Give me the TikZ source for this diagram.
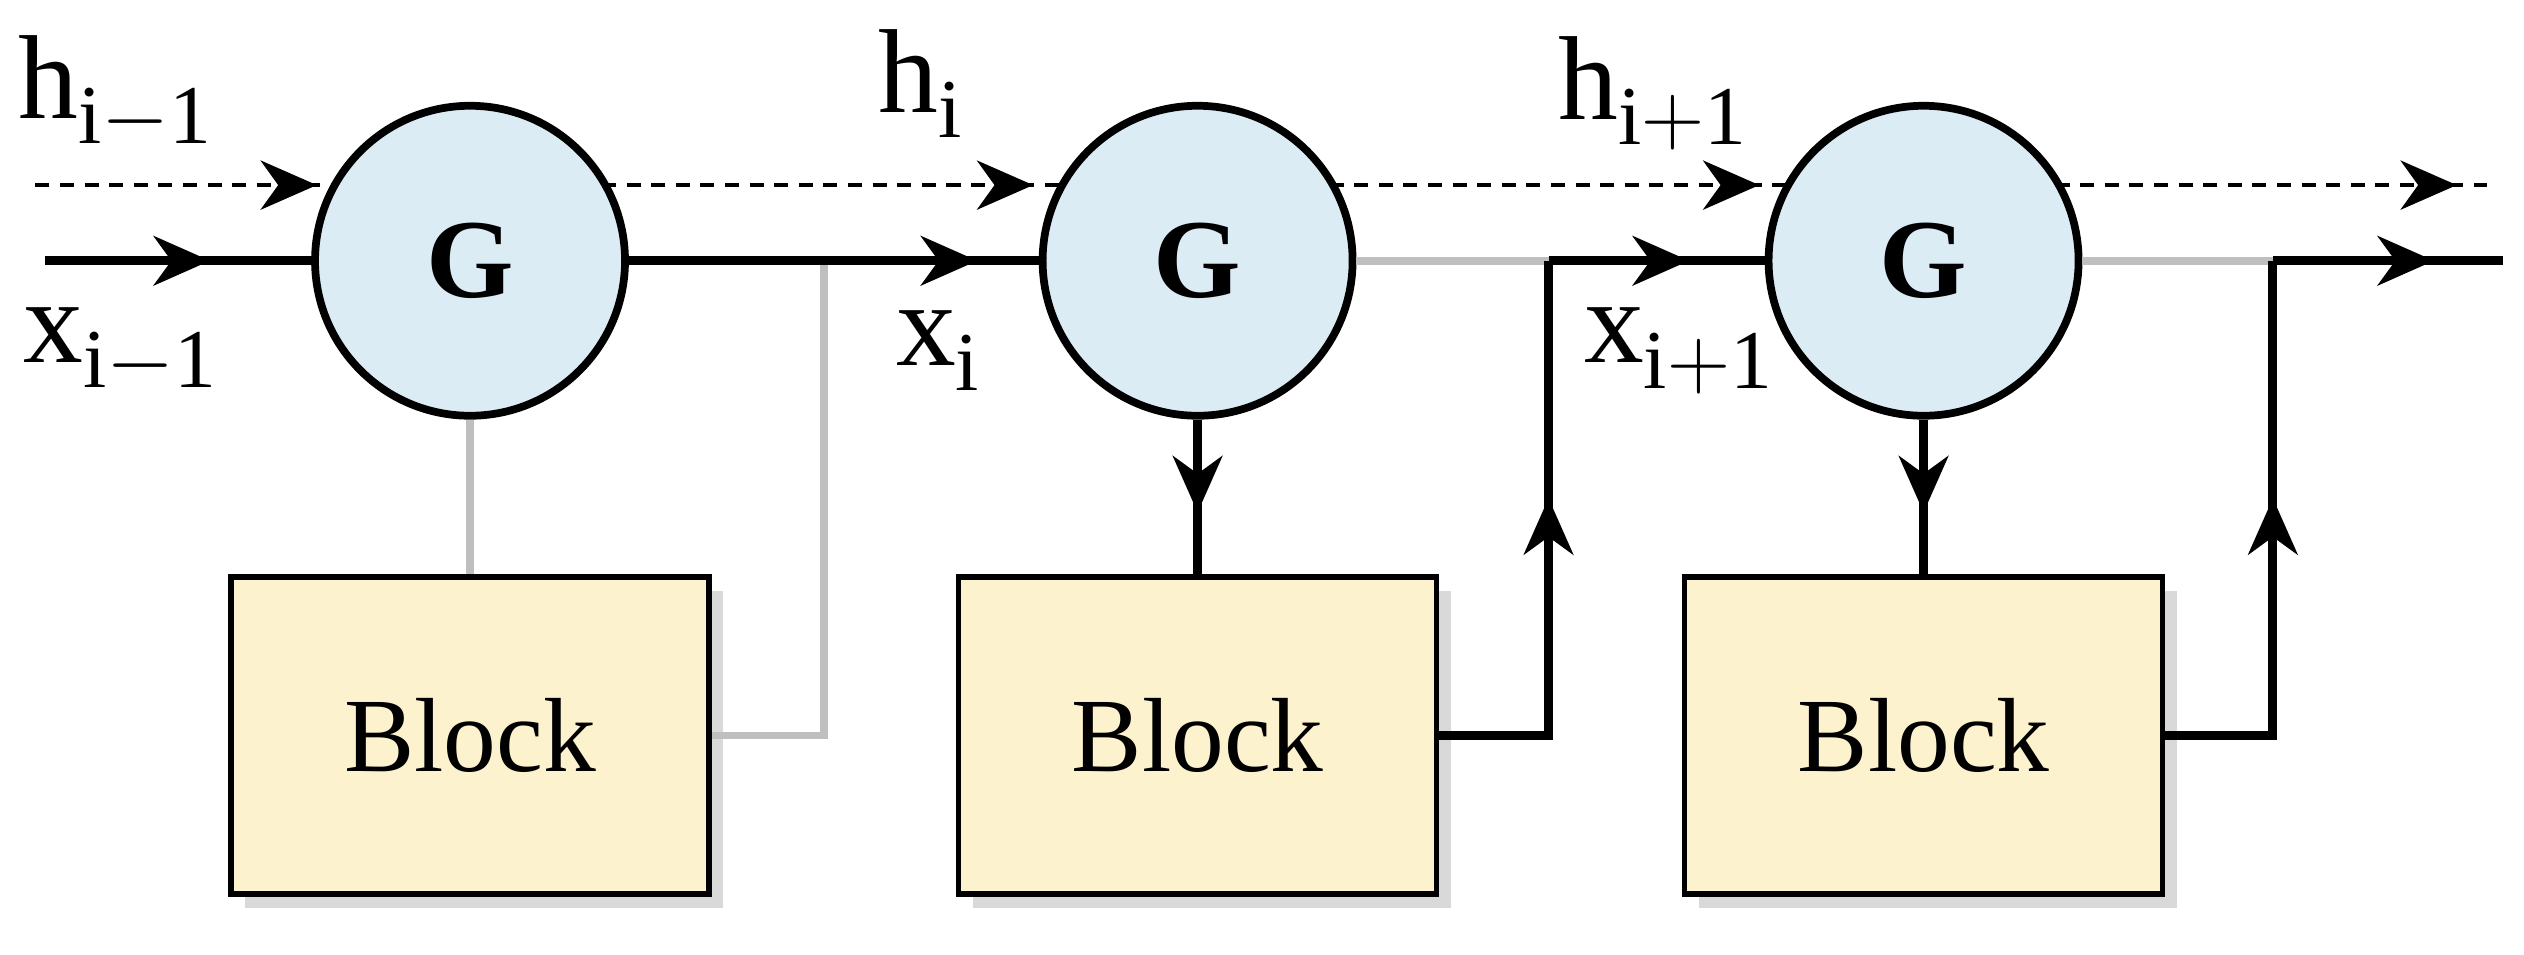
\documentclass[tikz,border=0pt]{standalone}
\usepackage{fontspec}
\setmainfont{Liberation Serif}
\usepackage{tikz}
\usetikzlibrary{arrows.meta, decorations.markings, calc, shadows}
\definecolor{gatefill}{RGB}{220,236,244}
\definecolor{blockfill}{RGB}{253,242,206}
\tikzset{
  gate/.style={circle, draw=black, line width=2.2pt, fill=gatefill, minimum size=3.1cm, font=\fontsize{32}{32}\selectfont\bfseries},
  block/.style={rectangle, draw=black, line width=1.6pt, fill=blockfill, minimum width=4.78cm, minimum height=3.17cm, font=\fontsize{30}{30}\selectfont, drop shadow={opacity=0.3, shadow xshift=4pt, shadow yshift=-4pt}},
  main/.style={line width=2.6pt},
  skip/.style={line width=2.2pt, black!25},
  hid/.style={line width=1.3pt, dash pattern=on 4pt off 3pt},
  mid/.style={postaction={decorate}, decoration={markings, mark=at position #1 with {\arrow{Stealth[length=16pt, width=14pt, inset=5pt]}}}},
  lab/.style={font=\fontsize{34}{34}\selectfont}
}
\begin{document}
\begin{tikzpicture}[x=0.0161cm, y=-0.0161cm]
\useasboundingbox (0,0) rectangle (1568,593);
% gates and blocks
\node[gate] (g1) at (292,162) {G};
\node[gate] (g2) at (744,162) {G};
\node[gate] (g3) at (1195,162) {G};
\node[block] (b1) at (292,457) {Block};
\node[block] (b2) at (744,457) {Block};
\node[block] (b3) at (1195,457) {Block};
% turning points
\coordinate (in) at (28,162);
\coordinate (t1) at (512,162);
\coordinate (t2) at (962,162);
\coordinate (t3) at (1412,162);
\coordinate (out) at (1555,162);
\coordinate (hin) at (22,115);
\coordinate (hout) at (1545,115);
% hidden path
\draw[hid, mid=0.93] (hin) -- ($(g1.center)+(-82,-47)$);
\draw[hid, mid=0.93] ($(g1.center)+(82,-47)$) -- ($(g2.center)+(-82,-47)$);
\draw[hid, mid=0.93] ($(g2.center)+(82,-47)$) -- ($(g3.center)+(-82,-47)$);
\draw[hid, mid=0.93] ($(g3.center)+(82,-47)$) -- (hout);
% skip paths
\draw[skip] (g1.south) -- (b1.north);
\draw[skip] (t1) |- (b1.east);
\draw[skip] (g2.east) -- (t2);
\draw[skip] (g3.east) -- (t3);
% main path
\draw[main, mid=0.62] (in) -- (g1.west);
\draw[main, mid=0.85] (g1.east) -- (g2.west);
\draw[main, mid=0.6] (g2.south) -- (b2.north);
\draw[main, mid=0.6] (g3.south) -- (b3.north);
\draw[main] (b2.east) -| (t2);
\draw[main, mid=0.5] (b2.east-|t2) -- (t2);
\draw[main, mid=0.65] (t2) -- (g3.west);
\draw[main] (b3.east) -| (t3);
\draw[main, mid=0.5] (b3.east-|t3) -- (t3);
\draw[main, mid=0.7] (t3) -- (out);
% labels
\node[lab] (h1) at (72,58) {h$_{\mathrm{i-1}}$};
\node[lab] (x1) at (75,218) {x$_{\mathrm{i-1}}$};
\node[lab] (h2) at (572,52) {h$_{\mathrm{i}}$};
\node[lab] (x2) at (583,218) {x$_{\mathrm{i}}$};
\node[lab] (h3) at (1027,58) {h$_{\mathrm{i+1}}$};
\node[lab] (x3) at (1043,218) {x$_{\mathrm{i+1}}$};
\end{tikzpicture}
\end{document}
